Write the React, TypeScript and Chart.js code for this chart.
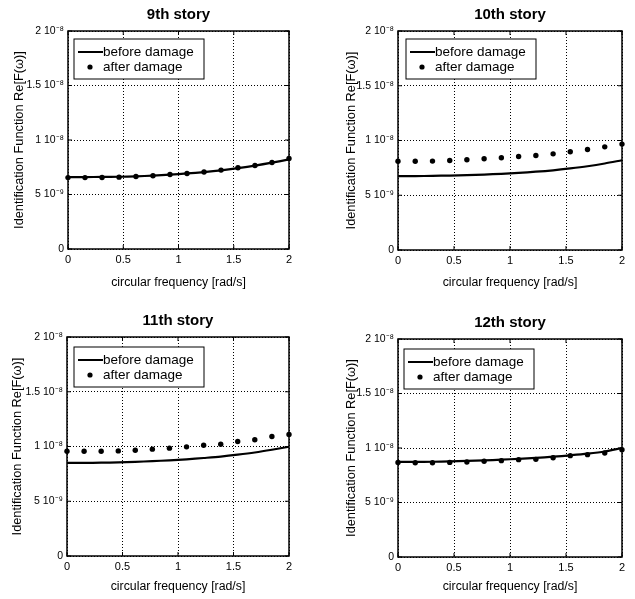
import React, { useEffect, useRef } from "react";
import { Chart, registerables } from "chart.js";

Chart.register(...registerables);

const freq = [0, 0.154, 0.308, 0.462, 0.615, 0.769, 0.923, 1.077, 1.231, 1.385, 1.538, 1.692, 1.846, 2.0];

const before9 = [6.6e-9, 6.6e-9, 6.61e-9, 6.63e-9, 6.67e-9, 6.73e-9, 6.82e-9, 6.93e-9, 7.06e-9, 7.22e-9, 7.42e-9, 7.65e-9, 7.92e-9, 8.22e-9];
const after9 = [6.55e-9, 6.55e-9, 6.56e-9, 6.59e-9, 6.65e-9, 6.72e-9, 6.83e-9, 6.93e-9, 7.07e-9, 7.24e-9, 7.45e-9, 7.66e-9, 7.94e-9, 8.3e-9];

const before10 = [6.75e-9, 6.75e-9, 6.77e-9, 6.8e-9, 6.84e-9, 6.89e-9, 6.96e-9, 7.05e-9, 7.15e-9, 7.28e-9, 7.45e-9, 7.65e-9, 7.9e-9, 8.2e-9];
const after10 = [8.1e-9, 8.1e-9, 8.12e-9, 8.18e-9, 8.24e-9, 8.33e-9, 8.42e-9, 8.54e-9, 8.63e-9, 8.78e-9, 8.97e-9, 9.18e-9, 9.42e-9, 9.67e-9];

const before11 = [8.5e-9, 8.5e-9, 8.52e-9, 8.55e-9, 8.6e-9, 8.66e-9, 8.74e-9, 8.83e-9, 8.95e-9, 9.08e-9, 9.25e-9, 9.45e-9, 9.7e-9, 9.98e-9];
const after11 = [9.57e-9, 9.57e-9, 9.57e-9, 9.6e-9, 9.66e-9, 9.76e-9, 9.85e-9, 9.97e-9, 10.12e-9, 10.21e-9, 10.46e-9, 10.61e-9, 10.91e-9, 11.1e-9];

const before12 = [8.72e-9, 8.72e-9, 8.74e-9, 8.77e-9, 8.81e-9, 8.86e-9, 8.93e-9, 9.01e-9, 9.1e-9, 9.2e-9, 9.33e-9, 9.48e-9, 9.68e-9, 10.0e-9];
const after12 = [8.68e-9, 8.65e-9, 8.65e-9, 8.68e-9, 8.72e-9, 8.78e-9, 8.84e-9, 8.93e-9, 8.96e-9, 9.11e-9, 9.3e-9, 9.39e-9, 9.54e-9, 9.85e-9];

const titles = ["9th story", "10th story", "11th story", "12th story"];
const seriesNames = ["before damage", "after damage"];
const xTickLabels = ["0", "0.5", "1", "1.5", "2"];
const yTickLabels = ["0", "5 10\u207B\u2079", "1 10\u207B\u2078", "1.5 10\u207B\u2078", "2 10\u207B\u2078"];
const xTitle = "circular frequency [rad/s]";
const yTitle = "Identification Function Re[F(\u03C9)]";

const FONT = "'Liberation Sans', Arial, Helvetica, sans-serif";

type Panel = {
  title: string;
  before: number[];
  after: number[];
  left: number; top: number; width: number; height: number;
  yW: number; padR: number; padT: number; xH: number;
  xTitlePad: number; yTitlePad: number;
  legX: number; legY: number;
};

const panels: Panel[] = [
  { title: titles[0], before: before9, after: after9, left: 0, top: 0, width: 315, height: 300, yW: 68, padR: 26, padT: 31, xH: 51, xTitlePad: 10, yTitlePad: 12, legX: 6, legY: 8 },
  { title: titles[1], before: before10, after: after10, left: 315, top: 0, width: 320, height: 300, yW: 83, padR: 13, padT: 31, xH: 50, xTitlePad: 10, yTitlePad: 29, legX: 8, legY: 8 },
  { title: titles[2], before: before11, after: after11, left: 0, top: 300, width: 315, height: 299, yW: 67, padR: 26, padT: 37, xH: 43, xTitlePad: 5, yTitlePad: 10, legX: 7, legY: 10 },
  { title: titles[3], before: before12, after: after12, left: 315, top: 300, width: 320, height: 299, yW: 83, padR: 13, padT: 39, xH: 42, xTitlePad: 5, yTitlePad: 29, legX: 6, legY: 10 },
];

function makeDecor(p: Panel) {
  return {
    id: "decor",
    afterDraw(chart: any) {
      const ctx = chart.ctx;
      const a = chart.chartArea;
      const xs = chart.scales.x;
      const ys = chart.scales.y;
      ctx.save();
      ctx.fillStyle = "#000";
      ctx.font = `bold 15px ${FONT}`;
      ctx.textAlign = "center";
      ctx.textBaseline = "middle";
      ctx.fillText(p.title, (a.left + a.right) / 2, a.top - 16);
      ctx.strokeStyle = "#000";
      ctx.lineWidth = 1;
      ctx.beginPath();
      xs.ticks.forEach((t: any) => {
        const px = xs.getPixelForValue(t.value);
        ctx.moveTo(px, a.bottom); ctx.lineTo(px, a.bottom - 4);
        ctx.moveTo(px, a.top); ctx.lineTo(px, a.top + 4);
      });
      ys.ticks.forEach((t: any) => {
        const py = ys.getPixelForValue(t.value);
        ctx.moveTo(a.left, py); ctx.lineTo(a.left + 4, py);
        ctx.moveTo(a.right, py); ctx.lineTo(a.right - 4, py);
      });
      ctx.stroke();
      ctx.lineWidth = 1.5;
      ctx.strokeRect(a.left, a.top, a.right - a.left, a.bottom - a.top);
      const lx = a.left + p.legX;
      const ly = a.top + p.legY;
      const lw = 130, lh = 40;
      ctx.fillStyle = "#fff";
      ctx.fillRect(lx, ly, lw, lh);
      ctx.lineWidth = 1;
      ctx.strokeStyle = "#000";
      ctx.strokeRect(lx, ly, lw, lh);
      ctx.lineWidth = 2;
      ctx.beginPath();
      ctx.moveTo(lx + 4, ly + 13);
      ctx.lineTo(lx + 29, ly + 13);
      ctx.stroke();
      ctx.fillStyle = "#000";
      ctx.beginPath();
      ctx.arc(lx + 16, ly + 28, 2.6, 0, Math.PI * 2);
      ctx.fill();
      ctx.font = `13.5px ${FONT}`;
      ctx.textAlign = "left";
      ctx.fillText(seriesNames[0], lx + 29, ly + 13);
      ctx.fillText(seriesNames[1], lx + 29, ly + 28);
      ctx.restore();
    },
  };
}

function PanelChart({ p }: { p: Panel }) {
  const ref = useRef<HTMLCanvasElement | null>(null);
  useEffect(() => {
    if (!ref.current) return;
    const chart = new Chart(ref.current, {
      type: "scatter",
      data: {
        datasets: [
          {
            label: seriesNames[0],
            data: freq.map((x, i) => ({ x, y: p.before[i] })),
            showLine: true,
            borderColor: "#000",
            borderWidth: 2.2,
            pointRadius: 0,
            tension: 0.3,
            clip: false,
          },
          {
            label: seriesNames[1],
            data: freq.map((x, i) => ({ x, y: p.after[i] })),
            showLine: false,
            pointRadius: 2.7,
            pointBackgroundColor: "#000",
            pointBorderColor: "#000",
            pointBorderWidth: 0,
            clip: false,
          },
        ],
      },
      options: {
        responsive: false,
        animation: false,
        layout: { padding: { left: 0, right: p.padR, top: p.padT, bottom: 0 } },
        plugins: { legend: { display: false }, tooltip: { enabled: false }, title: { display: false } },
        scales: {
          x: {
            type: "linear",
            min: 0,
            max: 2,
            afterFit: (s: any) => { s.height = p.xH; },
            ticks: {
              stepSize: 0.5,
              padding: 4,
              color: "#000",
              font: { family: FONT, size: 11 },
              maxRotation: 0,
              callback: (_v: any, i: number) => xTickLabels[i],
            },
            grid: { color: "#000", lineWidth: 1, drawTicks: false },
            border: { display: false, dash: [1, 2] },
            title: {
              display: true,
              text: xTitle,
              color: "#000",
              font: { family: FONT, size: 12.3 },
              padding: { top: 0, bottom: p.xTitlePad },
            },
          },
          y: {
            type: "linear",
            min: 0,
            max: 2e-8,
            afterFit: (s: any) => { s.width = p.yW; },
            ticks: {
              stepSize: 5e-9,
              padding: 4,
              color: "#000",
              font: { family: FONT, size: 10.5 },
              callback: (_v: any, i: number) => yTickLabels[i],
            },
            grid: { color: "#000", lineWidth: 1, drawTicks: false },
            border: { display: false, dash: [1, 2] },
            title: {
              display: true,
              text: yTitle,
              color: "#000",
              font: { family: FONT, size: 12.8 },
              padding: { top: p.yTitlePad, bottom: 0 },
            },
          },
        },
      },
      plugins: [makeDecor(p)],
    } as any);
    return () => chart.destroy();
  }, [p]);
  return (
    <canvas
      ref={ref}
      width={p.width}
      height={p.height}
      style={{ position: "absolute", left: p.left, top: p.top, width: p.width, height: p.height }}
    />
  );
}

export default function App() {
  return (
    <div style={{ position: "absolute", left: 0, top: 0, width: 635, height: 599, background: "#fff" }}>
      {panels.map((p, i) => (
        <PanelChart key={i} p={p} />
      ))}
    </div>
  );
}
